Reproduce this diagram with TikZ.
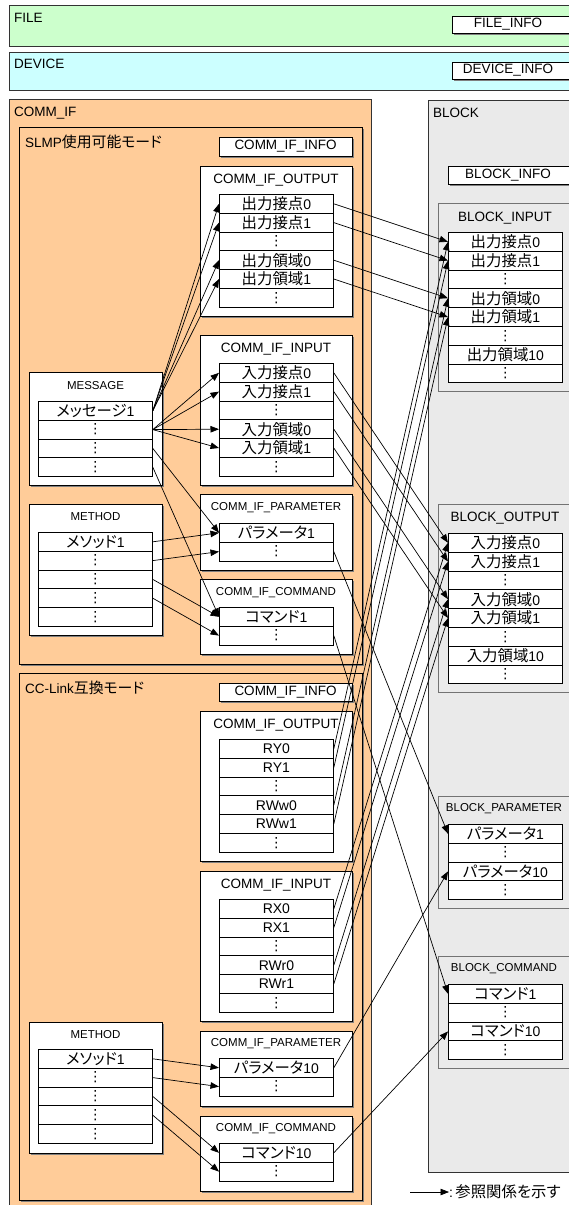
\documentclass[tikz,border=0pt]{standalone}
\usepackage{fontspec}
\setmainfont{Liberation Sans}
\newfontfamily\jp[Scale=1.1, RawFeature=+palt]{Noto Sans CJK JP}
\newfontfamily\dv{DejaVu Sans}
\usetikzlibrary{arrows.meta,shadows}
\definecolor{filegreen}{RGB}{204,255,204}
\definecolor{devcyan}{RGB}{204,255,255}
\definecolor{commpeach}{RGB}{255,204,153}
\definecolor{blockgray}{RGB}{234,234,234}
\newcommand\dt{{\dv\fontsize{14}{14}\selectfont ⋮}}
\newcommand\cbox[6]{\node[#1, anchor=north west, inner sep=0pt, minimum width={#5-#3}, minimum height={#6-#4}] (#2) at (#3,#4) {};}
\newcommand\rowstack[4]{\foreach \t [count=\i] in {#4} {\node[rowbox, anchor=north west] (#1-\i) at (#2,{#3+(\i-1)*18.8}) {\t};}}
\tikzset{
 rowbox/.style={draw=black, fill=white, line width=0.8pt, minimum width=114pt, minimum height=18.8pt, inner sep=0pt, font=\fontsize{14}{16}\selectfont},
 secbox/.style={draw=black, fill=white, line width=0.8pt, drop shadow={shadow xshift=1.5pt, shadow yshift=-1.5pt, fill=black!50, opacity=1}},
 modebox/.style={draw=black, fill=commpeach, line width=0.8pt, drop shadow={shadow xshift=1.5pt, shadow yshift=-1.5pt, fill=black!50, opacity=1}},
 bigbox/.style={draw=black!80, line width=0.8pt},
 bsec/.style={draw=black!55, fill=blockgray, line width=0.8pt},
 ttl/.style={font=\fontsize{13.5}{16}\selectfont, inner sep=0pt},
 sttl/.style={font=\fontsize{11.5}{14}\selectfont, inner sep=0pt},
 lbl/.style={font=\fontsize{13.5}{16}\selectfont, anchor=west, inner sep=0pt},
 ref/.style={-{Triangle[length=8.5pt,width=6.5pt]}, line width=0.7pt, black},
}
\begin{document}
\begin{tikzpicture}[x=1pt,y=-1pt]
\useasboundingbox (0,0) rectangle (569,1205);
\clip (0,0) rectangle (569,1205);
% big containers
\cbox{bigbox, fill=filegreen}{file}{9}{5}{620}{46}
\cbox{secbox}{fileinfo}{452}{16}{620}{33}
\node[lbl] (filet) at (14,18) {FILE};
\node[ttl] (fileinfot) at (508,24.5) {FILE\_INFO};
\cbox{bigbox, fill=devcyan}{device}{9}{52}{620}{90}
\cbox{secbox}{devinfo}{452}{62}{620}{79}
\node[lbl] (devicet) at (14,64) {DEVICE};
\node[ttl] (devinfot) at (508,70.5) {DEVICE\_INFO};
\cbox{bigbox, fill=commpeach}{commif}{9}{99}{371}{1230}
\node[lbl] (commift) at (14,113) {COMM\_IF};
\cbox{bigbox, fill=blockgray}{block}{428}{100}{620}{1172}
\node[lbl] (blockt) at (433,113) {BLOCK};
% SLMP mode
\cbox{modebox}{slmp}{19}{127}{362}{664}
\node[lbl] (slmpt) at (25,142) {SLMP{\jp 使用可能モード}};
\cbox{secbox}{info1}{219}{137}{352}{156}
\node[ttl] (info1t) at (285.5,146.5) {COMM\_IF\_INFO};
\cbox{secbox}{out1}{200}{166}{352}{316}
\node[ttl] (out1t) at (276,180) {COMM\_IF\_OUTPUT};
\cbox{secbox}{in1}{200}{335}{352}{485}
\node[ttl] (in1t) at (276,349) {COMM\_IF\_INPUT};
\cbox{secbox}{msgbox}{29}{372}{162}{485}
\node[sttl] (msgt) at (95.5,386) {MESSAGE};
\cbox{secbox}{mth1}{29}{504}{162}{635}
\node[sttl] (mth1t) at (95.5,517) {METHOD};
\cbox{secbox}{par1}{200}{494}{352}{570}
\node[sttl] (par1t) at (276,508) {COMM\_IF\_PARAMETER};
\cbox{secbox}{cmd1}{200}{579}{352}{654}
\node[sttl] (cmd1t) at (276,593) {COMM\_IF\_COMMAND};
% CC-Link mode
\cbox{modebox}{cc}{19}{673}{362}{1200}
\node[lbl] (cct) at (25,688) {CC-Link{\jp 互換モード}};
\cbox{secbox}{info2}{219}{683}{352}{701}
\node[ttl] (info2t) at (285.5,692) {COMM\_IF\_INFO};
\cbox{secbox}{out2}{200}{711}{352}{861}
\node[ttl] (out2t) at (276,725) {COMM\_IF\_OUTPUT};
\cbox{secbox}{in2}{200}{871}{352}{1021}
\node[ttl] (in2t) at (276,885) {COMM\_IF\_INPUT};
\cbox{secbox}{mth2}{29}{1022}{162}{1153}
\node[sttl] (mth2t) at (95.5,1035) {METHOD};
\cbox{secbox}{par2}{200}{1031}{352}{1106}
\node[sttl] (par2t) at (276,1044) {COMM\_IF\_PARAMETER};
\cbox{secbox}{cmd2}{200}{1116}{352}{1191}
\node[sttl] (cmd2t) at (276,1129) {COMM\_IF\_COMMAND};
% BLOCK side
\cbox{secbox}{binfo}{448}{166}{620}{184}
\node[ttl] (binfot) at (508,175) {BLOCK\_INFO};
\cbox{bsec}{bin}{438}{203}{620}{391}
\node[ttl] (bint) at (505,218) {BLOCK\_INPUT};
\cbox{bsec}{bout}{438}{504}{620}{692}
\node[ttl] (boutt) at (505,518) {BLOCK\_OUTPUT};
\cbox{bsec}{bpar}{438}{796}{620}{908}
\node[sttl] (bpart) at (504,809) {BLOCK\_PARAMETER};
\cbox{bsec}{bcmd}{438}{956}{620}{1068}
\node[sttl] (bcmdt) at (504,969) {BLOCK\_COMMAND};
% rows
\rowstack{o1}{219}{194}{{{\jp 出力接点}0},{{\jp 出力接点}1},\dt,{{\jp 出力領域}0},{{\jp 出力領域}1},\dt}
\rowstack{i1}{219}{363}{{{\jp 入力接点}0},{{\jp 入力接点}1},\dt,{{\jp 入力領域}0},{{\jp 入力領域}1},\dt}
\rowstack{msg}{38}{401}{{{\jp メッセージ}1},\dt,\dt,\dt}
\rowstack{m1}{38}{532}{{{\jp メソッド}1},\dt,\dt,\dt,\dt}
\rowstack{p1}{219}{523}{{{\jp パラメータ}1},\dt}
\rowstack{c1}{219}{607}{{{\jp コマンド}1},\dt}
\rowstack{o2}{219}{739}{RY0,RY1,\dt,RWw0,RWw1,\dt}
\rowstack{i2}{219}{899}{RX0,RX1,\dt,RWr0,RWr1,\dt}
\rowstack{m2}{38}{1049}{{{\jp メソッド}1},\dt,\dt,\dt,\dt}
\rowstack{p2}{219}{1058}{{{\jp パラメータ}10},\dt}
\rowstack{c2}{219}{1143}{{{\jp コマンド}10},\dt}
\rowstack{bi}{448}{232}{{{\jp 出力接点}0},{{\jp 出力接点}1},\dt,{{\jp 出力領域}0},{{\jp 出力領域}1},\dt,{{\jp 出力領域}10},\dt}
\rowstack{bo}{448}{533}{{{\jp 入力接点}0},{{\jp 入力接点}1},\dt,{{\jp 入力領域}0},{{\jp 入力領域}1},\dt,{{\jp 入力領域}10},\dt}
\rowstack{bp}{448}{824}{{{\jp パラメータ}1},\dt,{{\jp パラメータ}10},\dt}
\rowstack{bc}{448}{984}{{{\jp コマンド}1},\dt,{{\jp コマンド}10},\dt}
% connectors
\foreach \k in {1,2,4,5} {
  \draw[ref] (msg-1.east) -- (o1-\k.west);
  \draw[ref] (msg-2.east) -- (i1-\k.west);
  \draw[ref] (o1-\k.east) -- (bi-\k.west);
  \draw[ref] (i1-\k.east) -- (bo-\k.west);
  \draw[ref] (o2-\k.east) -- (bi-\k.west);
  \draw[ref] (i2-\k.east) -- (bo-\k.west);
}
\draw[ref] (msg-3.east) -- (p1-1.west);
\draw[ref] (msg-4.east) -- (c1-1.west);
\draw[ref] (m1-1.east) -- (p1-1.west);
\draw[ref] (m1-2.east) -- (p1-2.west);
\draw[ref] (m1-3.east) -- (c1-1.west);
\draw[ref] (m1-4.east) -- (c1-2.west);
\draw[ref] (m2-1.east) -- (p2-1.west);
\draw[ref] (m2-2.east) -- (p2-2.west);
\draw[ref] (m2-3.east) -- (c2-1.west);
\draw[ref] (m2-4.east) -- (c2-2.west);
\draw[ref] (p1-2.east) -- (bp-1.west);
\draw[ref] (c1-2.east) -- (bc-1.west);
\draw[ref] (p2-1.east) -- (bp-3.west);
\draw[ref] (c2-1.east) -- (bc-3.west);
% legend
\coordinate (legA) at (410,1192);
\node[lbl, font=\fontsize{14}{16}\selectfont] (leg) at (449,1192) {:\,{\jp 参照関係を示す}};
\draw[ref] (legA) -- (leg.west);
\end{tikzpicture}
\end{document}
